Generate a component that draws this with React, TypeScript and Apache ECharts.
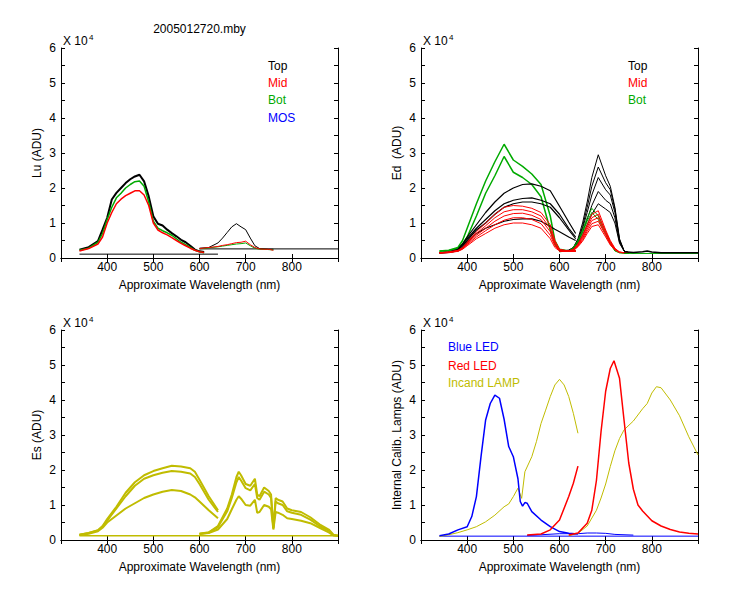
import React, { useEffect, useRef } from "react";
import * as echarts from "echarts";

const FONT = '"Liberation Sans", Arial, Helvetica, sans-serif';
const TITLE = "2005012720.mby";
const X_NAME = "Approximate Wavelength (nm)";
const Y_NAMES = ["Lu (ADU)", "Ed  (ADU)", "Es (ADU)", "Internal Calib. Lamps (ADU)"];
const Y_TICKS = [0, 1, 2, 3, 4, 5, 6];
const X_TICKS = [400, 500, 600, 700, 800];

// ---------- Lu (units of 1e4 ADU) ----------
const LU_WL1 = [340, 360, 380, 390, 400, 410, 420, 430, 440, 450, 460, 470, 480, 490, 500, 510, 520, 530, 540, 550, 560, 570, 580, 590, 600, 610];
const LU_TOP1 = [0.24, 0.31, 0.48, 0.81, 1.15, 1.67, 1.86, 2.0, 2.14, 2.25, 2.33, 2.38, 2.19, 1.76, 1.19, 0.98, 0.93, 0.81, 0.71, 0.62, 0.52, 0.45, 0.35, 0.24, 0.19, 0.17];
const LU_BOT1 = [0.22, 0.28, 0.45, 0.7, 1.1, 1.45, 1.72, 1.85, 2.0, 2.1, 2.18, 2.2, 2.05, 1.6, 1.05, 0.85, 0.78, 0.72, 0.65, 0.55, 0.45, 0.38, 0.3, 0.22, 0.18, 0.15];
const LU_MID1 = [0.2, 0.27, 0.4, 0.6, 1.0, 1.3, 1.55, 1.68, 1.78, 1.85, 1.92, 1.92, 1.8, 1.5, 1.0, 0.8, 0.72, 0.66, 0.58, 0.5, 0.42, 0.35, 0.28, 0.22, 0.18, 0.16];
const LU_WL2 = [600, 620, 640, 650, 660, 670, 680, 690, 700, 710, 720, 730, 740, 750, 760];
const LU_TOP2 = [0.28, 0.3, 0.43, 0.57, 0.73, 0.89, 0.98, 0.89, 0.81, 0.57, 0.35, 0.27, 0.26, 0.25, 0.25];
const LU_MID2 = [0.27, 0.3, 0.33, 0.36, 0.38, 0.41, 0.44, 0.45, 0.48, 0.38, 0.3, 0.26, 0.25, 0.25, 0.22];
const LU_BOT2 = [0.26, 0.29, 0.32, 0.34, 0.36, 0.38, 0.4, 0.41, 0.43, 0.35, 0.28, 0.25, 0.25, 0.24, 0.23];
const LU_DARK_WL1 = [340, 640];
const LU_DARK1 = [0.11, 0.11];
const LU_DARK_WL2 = [600, 900];
const LU_DARK2 = [0.26, 0.26];

// ---------- Ed ----------
const ED_WL1 = [340, 360, 380, 390, 400, 420, 440, 460, 480, 500, 520, 540, 560, 580, 590, 600, 620, 635];
const ED_TOP1 = [
  [0.15, 0.17, 0.25, 0.4, 0.6, 0.95, 1.3, 1.6, 1.85, 2.0, 2.1, 2.12, 2.05, 1.92, 1.7, 1.48, 1.03, 0.7],
  [0.15, 0.17, 0.24, 0.38, 0.55, 0.85, 1.1, 1.35, 1.55, 1.65, 1.7, 1.72, 1.65, 1.55, 1.4, 1.25, 0.85, 0.6],
  [0.15, 0.16, 0.22, 0.35, 0.5, 0.8, 1.0, 1.25, 1.45, 1.55, 1.6, 1.6, 1.55, 1.45, 1.3, 1.15, 0.8, 0.55],
  [0.14, 0.16, 0.2, 0.3, 0.45, 0.7, 0.85, 0.95, 1.05, 1.1, 1.12, 1.12, 1.05, 0.9, 0.82, 0.75, 0.6, 0.5],
];
const ED_MID1 = [
  [0.15, 0.17, 0.22, 0.3, 0.45, 0.75, 1.0, 1.25, 1.45, 1.5, 1.48, 1.42, 1.3, 0.95, 0.5, 0.25, 0.2, 0.2],
  [0.15, 0.17, 0.21, 0.28, 0.42, 0.7, 0.92, 1.15, 1.32, 1.38, 1.38, 1.32, 1.2, 0.85, 0.45, 0.23, 0.2, 0.2],
  [0.15, 0.16, 0.2, 0.27, 0.4, 0.65, 0.85, 1.05, 1.2, 1.27, 1.28, 1.22, 1.1, 0.75, 0.4, 0.22, 0.2, 0.2],
  [0.14, 0.16, 0.2, 0.26, 0.38, 0.6, 0.78, 0.95, 1.08, 1.15, 1.15, 1.1, 0.98, 0.65, 0.35, 0.21, 0.2, 0.2],
  [0.14, 0.15, 0.19, 0.25, 0.35, 0.55, 0.7, 0.85, 0.95, 1.0, 1.0, 0.95, 0.85, 0.55, 0.3, 0.2, 0.19, 0.19],
];
const ED_BOT1 = [
  [0.2, 0.22, 0.3, 0.5, 0.85, 1.55, 2.2, 2.75, 3.25, 2.8, 2.62, 2.4, 2.1, 1.2, 0.5, 0.25, 0.2, 0.2],
  [0.19, 0.21, 0.28, 0.4, 0.6, 1.2, 1.85, 2.35, 2.9, 2.45, 2.3, 2.1, 1.75, 0.8, 0.4, 0.22, 0.2, 0.2],
];
const ED_WL2 = [600, 620, 630, 640, 650, 660, 670, 684, 700, 710, 720, 730, 740, 750];
const ED_TOP2 = [
  [0.2, 0.22, 0.3, 0.55, 1.0, 1.6, 2.3, 2.95, 2.35, 2.05, 1.45, 0.55, 0.2, 0.15],
  [0.2, 0.22, 0.3, 0.5, 0.9, 1.45, 2.05, 2.6, 2.15, 1.95, 1.4, 0.52, 0.2, 0.15],
  [0.2, 0.22, 0.28, 0.48, 0.85, 1.3, 1.8, 2.3, 1.95, 1.8, 1.3, 0.5, 0.2, 0.15],
  [0.2, 0.21, 0.27, 0.45, 0.75, 1.1, 1.5, 1.9, 1.65, 1.55, 1.15, 0.45, 0.2, 0.15],
  [0.2, 0.21, 0.26, 0.42, 0.65, 0.95, 1.25, 1.55, 1.4, 1.3, 1.0, 0.42, 0.2, 0.15],
];
const ED_MID2 = [
  [0.2, 0.2, 0.25, 0.4, 0.65, 0.95, 1.25, 1.35, 0.8, 0.5, 0.28, 0.17, 0.15, 0.15],
  [0.2, 0.2, 0.24, 0.38, 0.6, 0.88, 1.15, 1.25, 0.75, 0.47, 0.26, 0.17, 0.15, 0.15],
  [0.2, 0.2, 0.23, 0.36, 0.56, 0.82, 1.07, 1.15, 0.7, 0.44, 0.25, 0.16, 0.15, 0.15],
  [0.2, 0.2, 0.22, 0.34, 0.52, 0.76, 0.98, 1.05, 0.65, 0.4, 0.24, 0.16, 0.15, 0.15],
  [0.19, 0.19, 0.21, 0.32, 0.48, 0.7, 0.9, 0.95, 0.6, 0.37, 0.23, 0.16, 0.15, 0.15],
];
const ED_BOT2 = [
  [0.18, 0.2, 0.3, 0.5, 0.8, 1.15, 1.42, 1.2, 0.75, 0.45, 0.22, 0.15, 0.14, 0.13],
  [0.18, 0.2, 0.28, 0.45, 0.72, 1.05, 1.3, 1.1, 0.68, 0.4, 0.2, 0.15, 0.14, 0.13],
];
const ED_TAIL_WL = [740, 760, 780, 790, 800, 820, 900];
const ED_TAIL = [0.18, 0.16, 0.18, 0.2, 0.17, 0.15, 0.15];
const ED_GTAIL_WL = [740, 900];
const ED_GTAIL = [0.13, 0.13];

// ---------- Es ----------
const ES_WL1 = [340, 360, 380, 390, 400, 420, 440, 460, 480, 500, 520, 540, 560, 580, 590, 600, 620, 640];
const ES_1 = [
  [0.15, 0.2, 0.28, 0.4, 0.6, 0.95, 1.35, 1.65, 1.85, 1.97, 2.05, 2.12, 2.1, 2.05, 1.95, 1.72, 1.25, 0.85],
  [0.15, 0.2, 0.27, 0.38, 0.55, 0.9, 1.25, 1.55, 1.75, 1.85, 1.92, 1.97, 1.95, 1.9, 1.8, 1.6, 1.15, 0.8],
  [0.14, 0.18, 0.25, 0.35, 0.5, 0.7, 0.9, 1.05, 1.2, 1.3, 1.38, 1.43, 1.4, 1.3, 1.22, 1.1, 0.85, 0.62],
];
const ES_WL2 = [600, 620, 640, 660, 670, 680, 685, 690, 700, 710, 720, 725, 730, 740, 750, 755, 760, 765, 770, 780, 790, 800, 820, 840, 860, 880, 890, 900];
const ES_2 = [
  [0.18, 0.22, 0.4, 0.9, 1.3, 1.8, 1.95, 1.85, 1.6, 1.55, 1.75, 1.3, 1.25, 1.5, 1.4, 1.3, 0.35, 1.2, 1.15, 1.1, 0.9, 0.85, 0.8, 0.65, 0.45, 0.3, 0.15, 0.12],
  [0.18, 0.21, 0.37, 0.82, 1.2, 1.65, 1.8, 1.7, 1.48, 1.42, 1.6, 1.2, 1.15, 1.38, 1.3, 1.2, 0.33, 1.1, 1.05, 1.0, 0.82, 0.78, 0.72, 0.58, 0.4, 0.27, 0.14, 0.12],
  [0.17, 0.2, 0.3, 0.6, 0.88, 1.15, 1.25, 1.18, 1.0, 0.98, 1.15, 0.78, 0.8, 1.0, 0.95, 0.88, 0.3, 0.8, 0.78, 0.72, 0.62, 0.6, 0.55, 0.48, 0.35, 0.22, 0.13, 0.12],
];
const ES_DARK_WL = [340, 900];
const ES_DARK = [0.12, 0.12];

// ---------- Internal calibration lamps ----------
const BLUE_WL1 = [340, 360, 380, 400, 410, 420, 430, 440, 450, 460, 470, 480, 490, 500, 510, 515, 520, 525, 530, 540, 560, 580, 600, 620, 640];
const BLUE1 = [0.12, 0.17, 0.29, 0.38, 0.67, 1.24, 2.38, 3.43, 3.9, 4.14, 4.05, 3.45, 2.67, 2.38, 1.75, 1.1, 0.97, 1.07, 1.05, 0.81, 0.57, 0.38, 0.24, 0.19, 0.17];
const BLUE_WL2 = [530, 560, 600, 640, 660, 680, 700, 720, 760];
const BLUE2 = [0.13, 0.15, 0.18, 0.18, 0.2, 0.2, 0.19, 0.16, 0.14];
const BLUE_DARK_WL = [340, 900];
const BLUE_DARK = [0.11, 0.11];
const RED_WL1 = [530, 560, 580, 600, 620, 630, 640];
const RED1 = [0.14, 0.17, 0.29, 0.57, 1.24, 1.62, 2.11];
const RED_WL2 = [620, 640, 660, 670, 680, 690, 700, 710, 718, 730, 740, 750, 760, 770, 780, 800, 820, 840, 860, 880, 900];
const RED2 = [0.14, 0.2, 0.48, 0.85, 1.7, 3.1, 4.25, 4.9, 5.12, 4.62, 3.4, 2.2, 1.45, 1.0, 0.83, 0.55, 0.4, 0.3, 0.23, 0.19, 0.17];
const LAMP_WL1 = [340, 360, 380, 400, 420, 440, 460, 480, 490, 500, 510, 518, 525, 540, 550, 560, 570, 580, 590, 600, 610, 620, 630, 640];
const LAMP1 = [0.1, 0.15, 0.21, 0.29, 0.38, 0.52, 0.71, 0.95, 1.03, 1.24, 1.48, 1.19, 1.95, 2.38, 2.81, 3.33, 3.71, 4.1, 4.43, 4.59, 4.43, 4.1, 3.62, 3.05];
const LAMP_WL2 = [620, 640, 660, 680, 690, 700, 710, 720, 730, 740, 760, 780, 790, 800, 810, 820, 840, 860, 880, 900];
const LAMP2 = [0.12, 0.19, 0.4, 0.85, 1.2, 1.6, 2.1, 2.55, 2.9, 3.15, 3.4, 3.75, 3.9, 4.2, 4.38, 4.35, 4.0, 3.55, 2.95, 2.43];

const BLACK = "#000000";
const RED = "#ff0000";
const GREEN = "#00aa00";
const BLUE = "#0000ff";
const OLIVE = "#c0bc00";

const GRIDS = [
  { left: 61, top: 48, width: 277, height: 210 },
  { left: 421, top: 48, width: 277, height: 210 },
  { left: 61, top: 330, width: 277, height: 210 },
  { left: 421, top: 330, width: 277, height: 210 },
];

function pairs(xs: number[], ys: number[]) {
  return xs.map((x, i) => [x, ys[i]]);
}

function line(g: number, xs: number[], ys: number[], color: string, width = 1) {
  return {
    type: "line",
    xAxisIndex: g * 2,
    yAxisIndex: g * 2,
    data: pairs(xs, ys),
    showSymbol: false,
    symbol: "none",
    silent: true,
    lineStyle: { color, width },
    z: 2,
  };
}

export default function App() {
  const ref = useRef<HTMLDivElement>(null);
  useEffect(() => {
    if (!ref.current) return;
    const chart = echarts.init(ref.current, null, { renderer: "svg" });
    const axisLineStyle = { show: true, lineStyle: { color: "#000", width: 1 } };
    const tick = { show: true, inside: true, length: 4, lineStyle: { color: "#000", width: 1 } };
    const xAxis: any[] = [];
    const yAxis: any[] = [];
    GRIDS.forEach((_, g) => {
      xAxis.push({
        type: "value", gridIndex: g, min: 300, max: 900, interval: 100, position: "bottom",
        axisLine: axisLineStyle, axisTick: tick, splitLine: { show: false },
        axisLabel: {
          color: "#000", fontFamily: FONT, fontSize: 12, margin: 3,
          formatter: (v: number) => (X_TICKS.includes(v) ? String(v) : ""),
        },
        name: X_NAME, nameLocation: "middle", nameGap: 21,
        nameTextStyle: { color: "#000", fontFamily: FONT, fontSize: 12 },
      });
      xAxis.push({
        type: "value", gridIndex: g, min: 300, max: 900, interval: 100, position: "top",
        axisLine: axisLineStyle, axisTick: tick, splitLine: { show: false },
        axisLabel: { show: false },
      });
      yAxis.push({
        type: "value", gridIndex: g, min: 0, max: 6, interval: 0.5, position: "left",
        axisLine: axisLineStyle, axisTick: tick, splitLine: { show: false },
        axisLabel: {
          color: "#000", fontFamily: FONT, fontSize: 12, margin: 5,
          formatter: (v: number) => (Y_TICKS.includes(v) ? String(v) : ""),
        },
        name: Y_NAMES[g], nameLocation: "middle", nameGap: 18,
        nameTextStyle: { color: "#000", fontFamily: FONT, fontSize: 12 },
      });
      yAxis.push({
        type: "value", gridIndex: g, min: 0, max: 6, interval: 0.5, position: "right",
        axisLine: axisLineStyle, axisTick: tick, splitLine: { show: false },
        axisLabel: { show: false },
      });
    });

    const series: any[] = [];
    // Lu
    series.push(line(0, LU_DARK_WL1, LU_DARK1, BLACK));
    series.push(line(0, LU_DARK_WL2, LU_DARK2, BLACK));
    series.push(line(0, LU_WL1, LU_TOP1, BLACK, 2));
    series.push(line(0, LU_WL1, LU_BOT1, GREEN, 1.5));
    series.push(line(0, LU_WL1, LU_MID1, RED, 1.5));
    series.push(line(0, LU_WL2, LU_TOP2, BLACK));
    series.push(line(0, LU_WL2, LU_BOT2, GREEN));
    series.push(line(0, LU_WL2, LU_MID2, RED));
    // Ed
    ED_BOT1.forEach((ys) => series.push(line(1, ED_WL1, ys, GREEN, 1.5)));
    ED_TOP1.forEach((ys) => series.push(line(1, ED_WL1, ys, BLACK, 1.2)));
    ED_MID1.forEach((ys) => series.push(line(1, ED_WL1, ys, RED)));
    ED_TOP2.forEach((ys) => series.push(line(1, ED_WL2, ys, BLACK)));
    ED_BOT2.forEach((ys) => series.push(line(1, ED_WL2, ys, GREEN)));
    ED_MID2.forEach((ys) => series.push(line(1, ED_WL2, ys, RED)));
    series.push(line(1, ED_GTAIL_WL, ED_GTAIL, GREEN));
    series.push(line(1, ED_TAIL_WL, ED_TAIL, BLACK, 1.5));
    // Es
    series.push(line(2, ES_DARK_WL, ES_DARK, OLIVE, 1.5));
    ES_1.forEach((ys) => series.push(line(2, ES_WL1, ys, OLIVE, 2)));
    ES_2.forEach((ys) => series.push(line(2, ES_WL2, ys, OLIVE, 2)));
    // Lamps
    series.push(line(3, BLUE_DARK_WL, BLUE_DARK, BLUE));
    series.push(line(3, BLUE_WL2, BLUE2, BLUE));
    series.push(line(3, LAMP_WL1, LAMP1, OLIVE));
    series.push(line(3, LAMP_WL2, LAMP2, OLIVE));
    series.push(line(3, BLUE_WL1, BLUE1, BLUE, 1.5));
    series.push(line(3, RED_WL1, RED1, RED, 1.5));
    series.push(line(3, RED_WL2, RED2, RED, 1.5));

    const txt = (x: number, y: number, text: string, fill: string, extra: any = {}) => ({
      type: "text", x, y, silent: true,
      style: { text, fill, font: `12px ${FONT}`, textVerticalAlign: "middle", ...extra },
    });
    const graphic: any[] = [];
    graphic.push(txt(199.5, 29, TITLE, "#000", { textAlign: "center" }));
    GRIDS.forEach((gr) => {
      graphic.push(txt(gr.left + 2, gr.top - 7, "X 10", "#000"));
      graphic.push(txt(gr.left + 28, gr.top - 11, "4", "#000", { font: `8px ${FONT}` }));
    });
    graphic.push(txt(268, 66, "Top", BLACK));
    graphic.push(txt(268, 83, "Mid", RED));
    graphic.push(txt(268, 100, "Bot", GREEN));
    graphic.push(txt(268, 118, "MOS", BLUE));
    graphic.push(txt(628, 66, "Top", BLACK));
    graphic.push(txt(628, 83, "Mid", RED));
    graphic.push(txt(628, 100, "Bot", GREEN));
    graphic.push(txt(448, 347, "Blue LED", BLUE));
    graphic.push(txt(448, 366, "Red LED", RED));
    graphic.push(txt(448, 383, "Incand LAMP", OLIVE));

    chart.setOption({
      animation: false,
      backgroundColor: "#ffffff",
      textStyle: { fontFamily: FONT },
      grid: GRIDS.map((g) => ({ ...g, containLabel: false })),
      xAxis,
      yAxis,
      series,
      graphic,
    });
    return () => chart.dispose();
  }, []);
  return (
    <div
      ref={ref}
      style={{ position: "fixed", left: 0, top: 0, width: 750, height: 600, background: "#fff" }}
    />
  );
}
